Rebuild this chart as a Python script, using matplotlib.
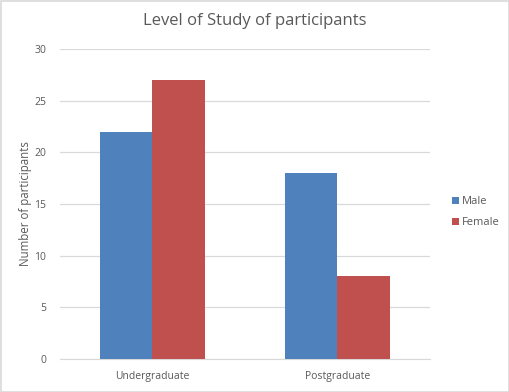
import matplotlib
matplotlib.use("Agg")
import matplotlib.pyplot as plt
import numpy as np

categories = ["Undergraduate", "Postgraduate"]
male = [22, 18]
female = [27, 8]
series_names = ["Male", "Female"]
yticks = [0, 5, 10, 15, 20, 25, 30]

plt.rcParams['font.family'] = ['Open Sans', 'DejaVu Sans']
txt = '#595959'

fig = plt.figure(figsize=(5.1, 3.92), dpi=100)
ax = fig.add_axes([60/510, 1-359/392, 370/510, 310/392])
x = np.arange(len(categories))
w = 0.284
ax.bar(x - w/2, male, w, color='#4F81BD', label=series_names[0], zorder=3)
ax.bar(x + w/2, female, w, color='#C0504D', label=series_names[1], zorder=3)
ax.set_xlim(-0.5, 1.5)
ax.set_ylim(0, 30)
ax.set_yticks(yticks)
ax.set_xticks(x)
ax.set_xticklabels(categories)
ax.grid(axis='y', color='#D9D9D9', linewidth=0.9, zorder=0)
for s in ['top', 'right', 'left']:
    ax.spines[s].set_visible(False)
ax.spines['bottom'].set_color('#D9D9D9')
ax.tick_params(axis='both', length=0, labelsize=7.5, colors=txt, pad=10)
ax.tick_params(axis='x', pad=9)
ax.set_ylabel("Number of participants", fontsize=8.3, color=txt)
ax.yaxis.set_label_coords(-28/370, 0.5)
fig.text(255/510, 1-21/392, "Level of Study of participants", ha='center', va='center', fontsize=12, color=txt)
leg = fig.legend(loc='center left', bbox_to_anchor=(442/510, 1-212/392), frameon=False, fontsize=8,
                 handlelength=0.6, handleheight=0.6, handletextpad=0.3, labelspacing=0.9, labelcolor=txt)
fig.patches.append(plt.Rectangle((0.001, 0.001), 0.997, 0.997, transform=fig.transFigure,
                                 fill=False, edgecolor='#D9D9D9', linewidth=1.2))
fig.savefig("out.png", dpi=100)
